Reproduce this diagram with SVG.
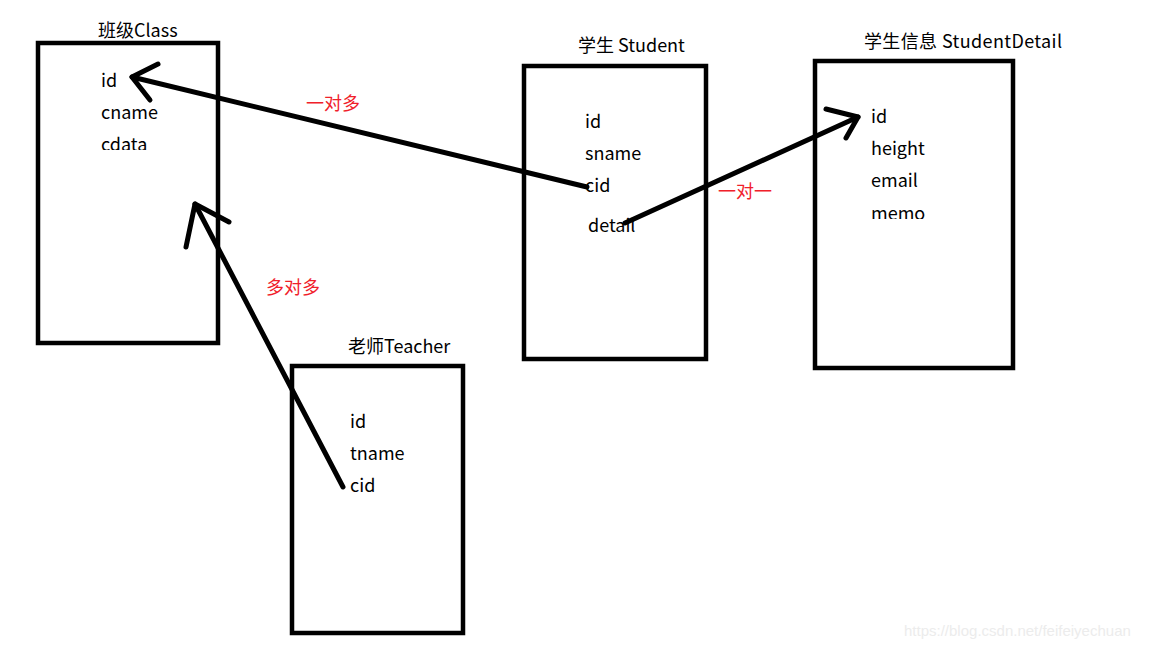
<svg xmlns="http://www.w3.org/2000/svg" width="1152" height="648" viewBox="0 0 1152 648">
<style>
.box{fill:none;stroke:#000;stroke-width:4.5}
.t{font-family:"Noto Sans CJK SC","Noto Sans",sans-serif;font-size:18px;fill:#000}
.f{font-family:"Noto Sans CJK SC","Noto Sans",sans-serif;font-size:18px;fill:#000}
.r{font-family:"Noto Sans CJK SC","Noto Sans",sans-serif;font-size:18px;fill:#f0202a}
.c{fill:none;stroke:#000;stroke-width:5;stroke-linecap:round;stroke-linejoin:round}
.w{font-family:"Liberation Sans",Arial,sans-serif;font-size:15px;fill:#ececec}
</style>
<defs>
<clipPath id="clipC"><rect x="90" y="60" width="120" height="90"/></clipPath>
<clipPath id="clipD"><rect x="860" y="100" width="140" height="119"/></clipPath>
</defs>
<rect width="1152" height="648" fill="#fff"/>
<g id="class">
<rect class="box" x="38" y="43" width="180" height="300"/>
<text class="t" x="98" y="37">班级Class</text>
<g clip-path="url(#clipC)">
<text class="f" x="101" y="87">id</text>
<text class="f" x="101" y="119">cname</text>
<text class="f" x="101" y="151">cdata</text>
</g>
</g>
<g id="student">
<rect class="box" x="524" y="66" width="182" height="293"/>
<text class="t" x="578" y="52">学生 Student</text>
<text class="f" x="585" y="128">id</text>
<text class="f" x="585" y="160">sname</text>
<text class="f" x="585" y="192">cid</text>
<text class="f" x="588" y="232">detail</text>
</g>
<g id="studentdetail">
<rect class="box" x="815" y="61" width="198" height="307"/>
<text class="t" x="864" y="48" textLength="198">学生信息 StudentDetail</text>
<g clip-path="url(#clipD)">
<text class="f" x="871" y="123">id</text>
<text class="f" x="871" y="155">height</text>
<text class="f" x="871" y="187">email</text>
<text class="f" x="871" y="220">memo</text>
</g>
</g>
<g id="teacher">
<rect class="box" x="292" y="366" width="171" height="267"/>
<text class="t" x="348" y="353">老师Teacher</text>
<text class="f" x="350" y="428">id</text>
<text class="f" x="350" y="460">tname</text>
<text class="f" x="350" y="492">cid</text>
</g>
<g id="connectors">
<polyline class="c" points="587,187 132,77"/>
<polyline class="c" points="158,64 132,77 150,100"/>
<polyline class="c" points="343,487 195,204"/>
<polyline class="c" points="186,247 195,204 229,222"/>
<polyline class="c" points="625,223 858,117"/>
<polyline class="c" points="826,109 858,117 846,138"/>
<text class="r" x="306" y="110">一对多</text>
<text class="r" x="266" y="294">多对多</text>
<text class="r" x="718" y="198">一对一</text>
</g>
<text class="w" x="904" y="636">https://blog.csdn.net/feifeiyechuan</text>
</svg>
